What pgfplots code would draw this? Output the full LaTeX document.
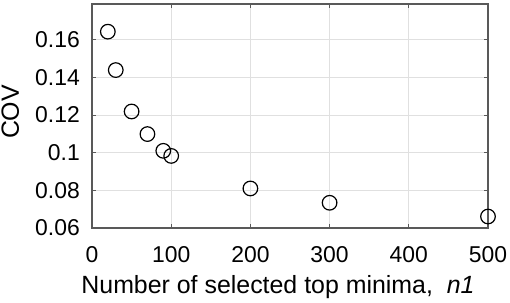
\documentclass[border=0pt]{standalone}
\usepackage{pgfplots}
\pgfplotsset{compat=1.18}
\usepackage{fontspec}
\setmainfont{Liberation Sans}
\definecolor{axgray}{gray}{0.35}
\definecolor{gridgray}{gray}{0.88}
\begin{document}
\begin{tikzpicture}
\path[use as bounding box] (-92bp,-75bp) rectangle (418bp,228bp);
\begin{axis}[
  at={(0,0)}, anchor=south west,
  scale only axis,
  width=396bp, height=224bp,
  xmin=0, xmax=500, ymin=0.06, ymax=0.179,
  xtick={0,100,200,300,400,500},
  ytick={0.06,0.08,0.1,0.12,0.14,0.16},
  /pgf/number format/assume math mode=true,
  yticklabel style={/pgf/number format/fixed,/pgf/number format/precision=2},
  scaled y ticks=false,
  tick align=inside,
  major tick length=4bp,
  axis line style={axgray, line width=1.2bp},
  every tick/.style={axgray, line width=1bp},
  grid=major,
  major grid style={gridgray, line width=0.8bp},
  tick label style={font=\fontsize{23}{27}\selectfont, black},
  xticklabel style={anchor=base, yshift=-34bp},
  yticklabel style={anchor=east, inner sep=0pt, xshift=-12bp},
  label style={font=\fontsize{25}{30}\selectfont, black},
  xlabel={Number of selected top minima,\ \ \textit{n1}},
  ylabel={COV},
  xlabel style={at={(axis description cs:0.5,0)}, anchor=base, yshift=-65bp, xshift=-12bp},
  ylabel style={at={(axis description cs:0,0.5)}, anchor=base, yshift=73bp, xshift=4bp},
  clip=false,
]
\addplot[only marks, mark=o, mark size=7.3bp, mark options={line width=1.2bp, black}] coordinates {
(20,0.1643) (30,0.1439) (50,0.1219) (70,0.1099) (90,0.1010) (100,0.0983)
(200,0.0810) (300,0.0734) (500,0.0661)
};
\end{axis}
\end{tikzpicture}
\end{document}
